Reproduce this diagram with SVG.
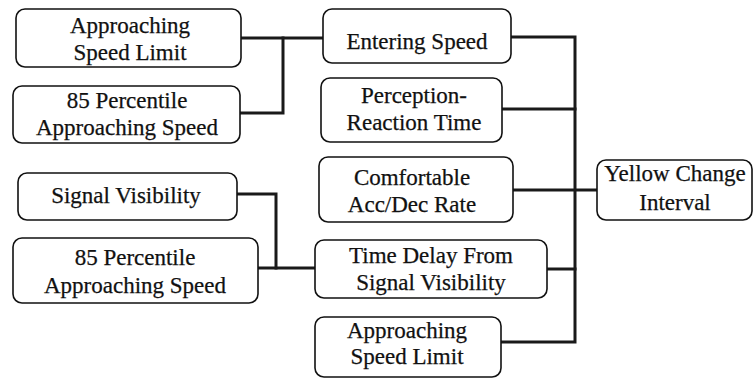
<svg xmlns="http://www.w3.org/2000/svg" width="755" height="379" viewBox="0 0 755 379">
  <style>
    .box { fill: #ffffff; stroke: #111111; stroke-width: 1.6; }
    .lbl { font-family: 'Liberation Serif', 'Times New Roman', serif; font-size: 23px; fill: #111111; stroke: #111111; stroke-width: 0.25; text-anchor: middle; }
    .wire { fill: none; stroke: #1a1a1a; stroke-width: 3; stroke-linejoin: miter; stroke-linecap: square; }
  </style>
  <rect width="755" height="379" fill="#ffffff"/>

  <!-- connectors -->
  <g id="connectors">
    <polyline class="wire" points="241,38 323,38"/>
    <polyline class="wire" points="240,113 283,113 283,38"/>
    <polyline class="wire" points="511,37 575,37 575,342 501,342"/>
    <polyline class="wire" points="502,109 575,109"/>
    <polyline class="wire" points="513,190 597,190"/>
    <polyline class="wire" points="547,269 575,269"/>
    <polyline class="wire" points="237,194 276,194 276,268"/>
    <polyline class="wire" points="258,268 316,268"/>
  </g>

  <!-- inputs to entering speed -->
  <g id="approach-limit-top">
    <rect class="box" x="16" y="9" width="225" height="58" rx="9"/>
    <text class="lbl" x="130" y="33">Approaching</text>
    <text class="lbl" x="130" y="60">Speed Limit</text>
  </g>
  <g id="percentile-top">
    <rect class="box" x="13" y="86" width="227" height="57" rx="9"/>
    <text class="lbl" x="127" y="108">85 Percentile</text>
    <text class="lbl" x="127" y="135">Approaching Speed</text>
  </g>

  <!-- inputs to time delay -->
  <g id="signal-visibility">
    <rect class="box" x="18" y="173" width="219" height="47" rx="9"/>
    <text class="lbl" x="126" y="203">Signal Visibility</text>
  </g>
  <g id="percentile-bottom">
    <rect class="box" x="13" y="238" width="245" height="65" rx="9"/>
    <text class="lbl" x="135" y="265">85 Percentile</text>
    <text class="lbl" x="135" y="293">Approaching Speed</text>
  </g>

  <!-- middle column -->
  <g id="entering-speed">
    <rect class="box" x="323" y="9" width="188" height="54" rx="9"/>
    <text class="lbl" x="417" y="49">Entering Speed</text>
  </g>
  <g id="perception-reaction">
    <rect class="box" x="321" y="78" width="181" height="64" rx="9"/>
    <text class="lbl" x="414" y="103">Perception-</text>
    <text class="lbl" x="414" y="130">Reaction Time</text>
  </g>
  <g id="acc-dec-rate">
    <rect class="box" x="319" y="157" width="194" height="65" rx="9"/>
    <text class="lbl" x="412" y="185">Comfortable</text>
    <text class="lbl" x="412" y="212">Acc/Dec Rate</text>
  </g>
  <g id="time-delay">
    <rect class="box" x="315" y="240" width="232" height="58" rx="9"/>
    <text class="lbl" x="431" y="263">Time Delay From</text>
    <text class="lbl" x="431" y="290">Signal Visibility</text>
  </g>
  <g id="approach-limit-bottom">
    <rect class="box" x="315" y="317" width="186" height="60" rx="9"/>
    <text class="lbl" x="407" y="338">Approaching</text>
    <text class="lbl" x="407" y="364">Speed Limit</text>
  </g>

  <!-- output -->
  <g id="yellow-change-interval">
    <rect class="box" x="597" y="160" width="155" height="60" rx="9"/>
    <text class="lbl" x="675" y="181">Yellow Change</text>
    <text class="lbl" x="675" y="210">Interval</text>
  </g>
</svg>
